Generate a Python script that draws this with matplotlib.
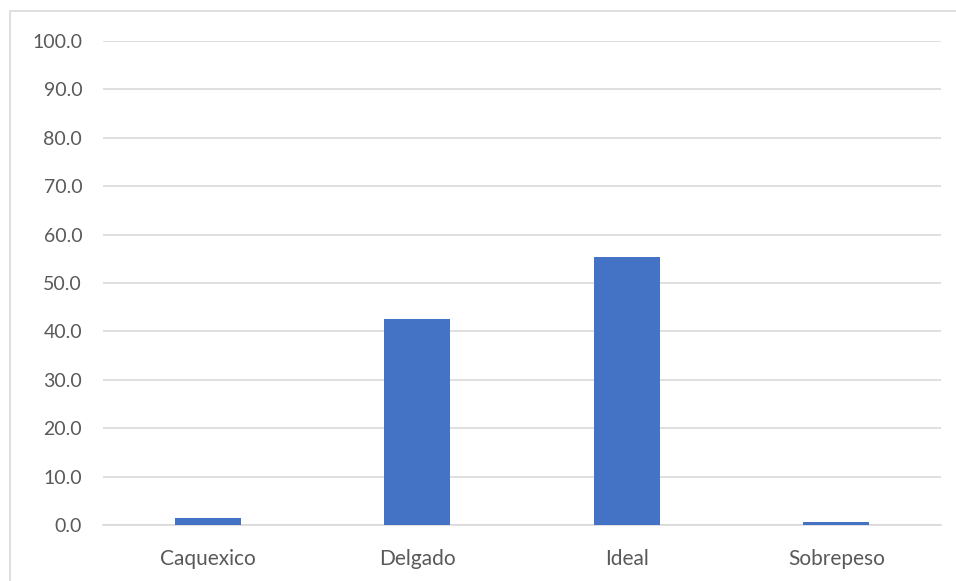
import matplotlib.pyplot as plt
import numpy as np
from matplotlib.patches import Rectangle

categories = ['Caquexico', 'Delgado', 'Ideal', 'Sobrepeso']
values = [1.4, 42.5, 55.3, 0.7]
yticks = np.arange(0, 101, 10)

plt.rcParams['font.family'] = ['Lato', 'DejaVu Sans']

fig = plt.figure(figsize=(9.56, 5.81), dpi=100)
ax = fig.add_axes([103/956, 1-525/581, (941-103)/956, (525-41)/581])

x = np.arange(len(categories))
ax.bar(x, values, width=0.315, color='#4472C4', zorder=3)

ax.set_xlim(-0.5, len(categories)-0.5)
ax.set_ylim(0, 100)
ax.set_yticks(yticks)
ax.set_yticklabels(['%.1f' % v for v in yticks])
ax.set_xticks(x)
ax.set_xticklabels(categories)
ax.yaxis.grid(True, color='#D9D9D9', linewidth=1.2, zorder=0)
ax.tick_params(axis='both', length=0, colors='#595959')
ax.tick_params(axis='y', pad=15, labelsize=14)
ax.tick_params(axis='x', pad=17, labelsize=15)
for s in ['top', 'right', 'left']:
    ax.spines[s].set_visible(False)
ax.spines['bottom'].set_color('#D9D9D9')
ax.spines['bottom'].set_linewidth(1.2)

# outer chart border (runs off the right and bottom edges)
fig.patches.append(Rectangle((10/956, -0.1), 1.2, 1.1 - 11/581,
                             transform=fig.transFigure, fill=False,
                             edgecolor='#D9D9D9', linewidth=1.2))

plt.savefig('out.png', dpi=100)
